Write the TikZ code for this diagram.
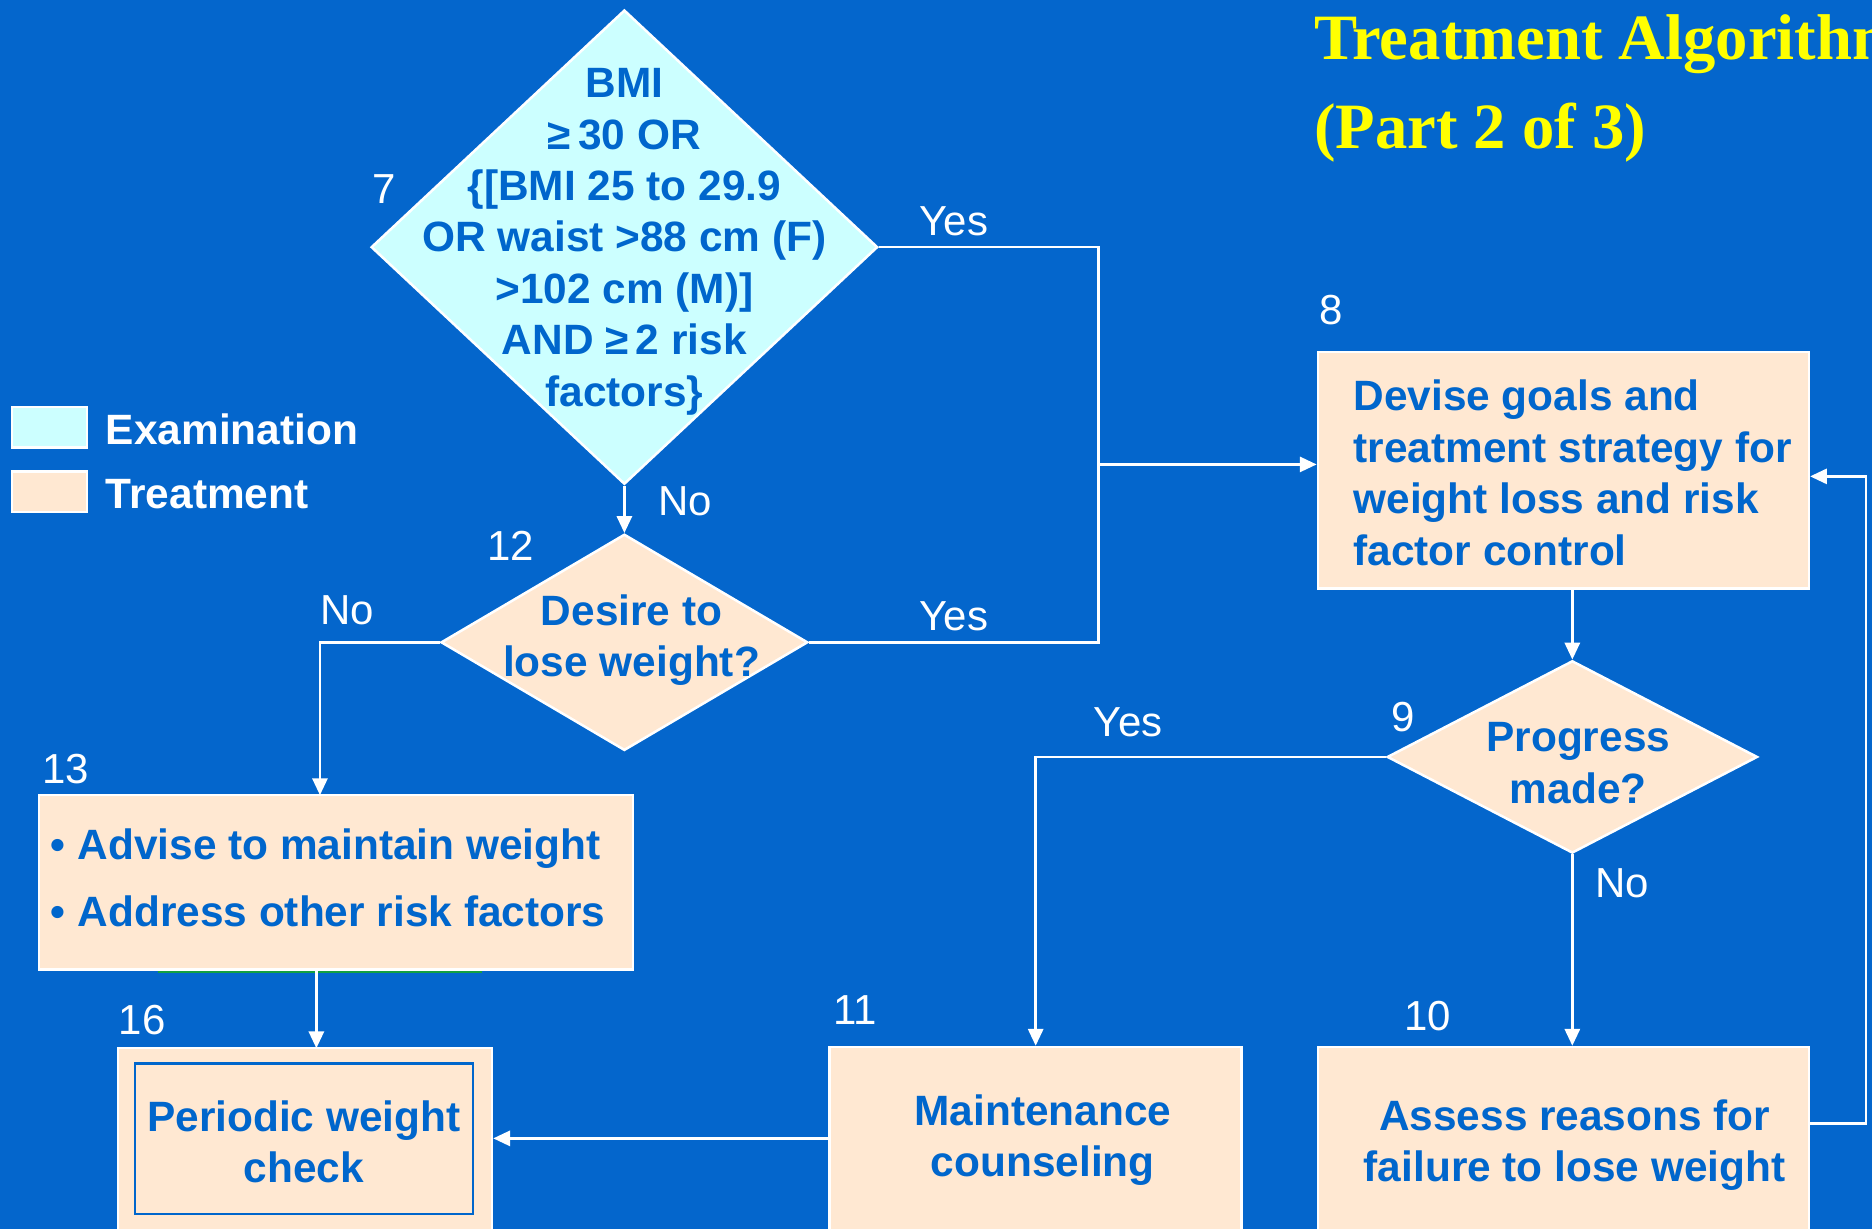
\documentclass[tikz,border=0pt]{standalone}
\usepackage{fontspec}
\setmainfont{Liberation Sans}
\newfontfamily\titlefont{Liberation Serif}
\usetikzlibrary{shapes.geometric,arrows.meta}
\definecolor{bgblue}{HTML}{0466CC}
\definecolor{txtblue}{HTML}{0066CC}
\definecolor{exam}{HTML}{CCFFFF}
\definecolor{treat}{HTML}{FFE8D2}
\definecolor{titleyellow}{HTML}{FFFF00}
\definecolor{oddgreen}{HTML}{14A040}
\tikzset{
 exdiam/.style={diamond, draw=white, line width=0.6pt, fill=exam, inner sep=0pt},
 trdiam/.style={diamond, draw=white, line width=0.6pt, fill=treat, inner sep=0pt},
 trbox/.style={rectangle, draw=white, line width=0.6pt, fill=treat, inner sep=0pt},
 btext/.style={text=txtblue, font=\bfseries\fontsize{10.1}{12.25}\selectfont, inner sep=0pt},
 numlbl/.style={text=white, font=\fontsize{10}{12}\selectfont, inner sep=0pt},
 leglbl/.style={text=white, font=\bfseries\fontsize{10.1}{12}\selectfont, inner sep=0pt, anchor=west},
 titletext/.style={anchor=base west, text=titleyellow, font=\titlefont\bfseries\fontsize{15.4}{18}\selectfont, inner sep=0pt},
 conn/.style={draw=white, line width=0.6pt},
 arr/.style={conn, -{Triangle[length=4pt,width=3.6pt]}},
}
\begin{document}
\begin{tikzpicture}[x=0.01cm,y=-0.01cm]
\useasboundingbox (0,0) rectangle (1568,1029);
\clip (0,0) rectangle (1568,1029);
\fill[bgblue] (0,0) rectangle (1568,1029);

% title
\node[titletext] (title1) at (1100,50) {Treatment Algorithm};
\node[titletext] (title2) at (1100,124) {(Part 2 of 3)};

% legend
\node[draw=white, line width=0.6pt, fill=exam, minimum width=0.63cm, minimum height=0.34cm, inner sep=0pt] (legex) at (41.5,358) {};
\node[draw=white, line width=0.6pt, fill=treat, minimum width=0.63cm, minimum height=0.34cm, inner sep=0pt] (legtr) at (41.5,412) {};
\node[leglbl] (legext) at (88,360) {Examination};
\node[leglbl] (legtrt) at (88,414) {Treatment};

% diamond 7
\node[exdiam, minimum width=4.24cm, minimum height=3.97cm] (d7) at (523,207) {};
\node[btext, align=center] (d7t) at (523,202.5) {BMI\\≥\,30 OR\\\{[BMI 25 to 29.9\\OR waist >88 cm (F)\\>102 cm (M)]\\AND ≥\,2 risk\\factors\}};

% diamond 12
\node[trdiam, minimum width=3.07cm, minimum height=1.81cm] (d12) at (523,538) {};
\node[btext, align=center] (d12t) at (529,536) {Desire to\\lose weight?};

% box 8
\node[trbox, minimum width=4.11cm, minimum height=1.98cm] (n8) at (1309.5,394) {};
\node[btext, align=left, anchor=west] (n8t) at (1133,396) {Devise goals and\\treatment strategy for\\weight loss and risk\\factor control};

% diamond 9
\node[trdiam, minimum width=3.10cm, minimum height=1.61cm] (d9) at (1317,634) {};
\node[btext, align=center] (d9t) at (1322,639) {Progress\\made?};

% box 13
\node[trbox, minimum width=4.97cm, minimum height=1.46cm] (n13) at (281.5,739) {};
\node[btext, align=left, anchor=west] (n13t) at (42,735) {• Advise to maintain weight\\[3.7pt]• Address other risk factors};
\draw[draw=oddgreen, line width=0.5pt] (132,813.8) -- (404,813.8);

% box 16
\node[trbox, minimum width=3.13cm, minimum height=1.52cm] (n16) at (255.5,954) {};
\node[draw=txtblue, line width=0.6pt, minimum width=2.83cm, minimum height=1.26cm, inner sep=0pt] (n16in) at (254.5,954) {};
\node[btext, align=center] (n16t) at (254.5,956.5) {Periodic weight\\check};

% box 11
\node[trbox, minimum width=3.45cm, minimum height=1.53cm] (n11) at (867.5,953.5) {};
\node[btext, align=center] (n11t) at (873.5,955) {Maintenance\\counseling};

% box 10
\node[trbox, minimum width=4.11cm, minimum height=1.55cm] (n10) at (1309.5,954.5) {};
\node[btext, align=center] (n10t) at (1319,959) {Assess reasons for\\failure to lose weight};

% numbers
\node[numlbl] (l7) at (322,158) {7};
\node[numlbl] (l8) at (1115,260) {8};
\node[numlbl] (l9) at (1175,601) {9};
\node[numlbl] (l10) at (1196,851) {10};
\node[numlbl] (l11) at (716,846) {11};
\node[numlbl] (l12) at (428,457) {12};
\node[numlbl] (l13) at (55,644) {13};
\node[numlbl] (l16) at (119,854) {16};

% yes / no
\node[numlbl] (y7) at (799,185) {Yes};
\node[numlbl] (n7) at (574,420) {No};
\node[numlbl] (n12) at (291,511) {No};
\node[numlbl] (y12) at (799,516) {Yes};
\node[numlbl] (y9) at (945,605) {Yes};
\node[numlbl] (n9) at (1359,740) {No};

% connectors
\coordinate (j1) at (920,389);
\coordinate (a13) at (268,666);
\coordinate (a16) at (265,878);
\coordinate (r1) at (1563,941);
\coordinate (r2) at (1563,399);

\draw[arr] (d7.south) -- (d12.north);
\draw[conn] (d7.east) -| (j1);
\draw[conn] (d12.east) -| (j1);
\draw[arr] (j1) -- (j1 -| n8.west);
\draw[arr] (d12.west) -| (a13);
\draw[arr] (a16 |- n13.south) -- (a16);
\draw[arr] (n11.west) -- (n11.west -| n16.east);
\draw[arr] (d9.north |- n8.south) -- (d9.north);
\draw[arr] (d9.west) -| (n11.north);
\draw[arr] (d9.south) -- (d9.south |- n10.north);
\draw[arr] (r1 -| n10.east) -- (r1) -- (r2) -- (r2 -| n8.east);
\end{tikzpicture}
\end{document}
